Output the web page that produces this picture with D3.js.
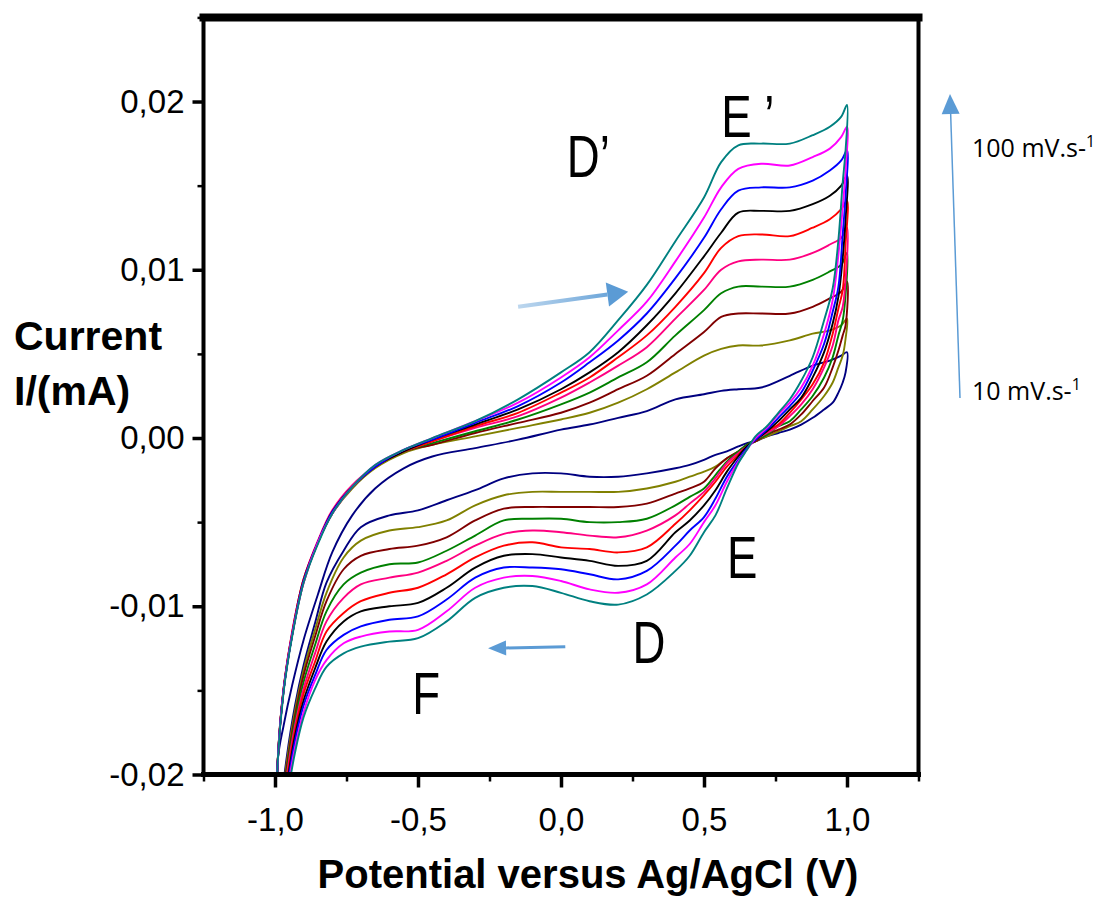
<!DOCTYPE html>
<html>
<head>
<meta charset="utf-8">
<script src="https://cdn.jsdelivr.net/npm/d3@7"></script>
<style>
  body { margin: 0; background: #fff; }
  svg { display: block; font-family: "Liberation Sans", Arial, sans-serif; }
</style>
</head>
<body>
<svg width="1103" height="900"></svg>
<script>
// scan rates in mV/s, innermost loop first
const scanRates = [10, 20, 30, 40, 50, 60, 70, 80, 90, 100]
const colors = ['#000080', '#808000', '#800000', '#008000', '#ff0080', '#ff0000', '#000000', '#0000ff', '#ff00ff', '#008080']

// potentials (V) of the anodic sweep (-1 -> 1) and the cathodic sweep (1 -> -1)
const fwdV = [-1.0, -0.99, -0.97, -0.94, -0.9, -0.85, -0.8, -0.73, -0.65, -0.55, -0.45, -0.3, -0.15, 0.0, 0.1, 0.2, 0.3, 0.4, 0.5, 0.56, 0.62, 0.7, 0.8, 0.88, 0.94, 0.98, 1.0]
const revV = [1.0, 0.995, 0.985, 0.97, 0.95, 0.92, 0.88, 0.84, 0.8, 0.76, 0.72, 0.68, 0.65, 0.62, 0.58, 0.54, 0.5, 0.45, 0.4, 0.3, 0.2, 0.1, 0.0, -0.1, -0.2, -0.3, -0.4, -0.5, -0.6, -0.7, -0.76, -0.82, -0.86, -0.9, -0.93, -0.96, -0.98, -1.0]

// currents in microA (axis is in mA)
const fwd10 = [-27.5, -19.1, -17.1, -14.7, -12.0, -9.3, -6.8, -4.6, -3.0, -1.8, -1.1, -0.6, -0.1, 0.5, 0.8, 1.2, 1.6, 2.3, 2.6, 2.8, 2.9, 3.0, 3.7, 4.3, 4.6, 4.9, 5.1]
const fwd20 = [-27.5, -19.1, -15.0, -11.7, -8.6, -6.2, -4.5, -3.0, -1.8, -0.9, -0.4, 0.1, 0.6, 1.1, 1.5, 2.1, 2.9, 3.9, 4.9, 5.3, 5.5, 5.5, 5.8, 6.2, 6.4, 6.7, 7.1]
const fwd30 = [-27.5, -19.1, -15.0, -11.7, -8.5, -6.2, -4.5, -2.9, -1.7, -0.8, -0.4, 0.3, 0.9, 1.5, 2.1, 2.9, 3.7, 5.0, 6.3, 7.2, 7.4, 7.4, 7.4, 7.8, 8.3, 8.7, 9.3]
const fwd40 = [-27.5, -19.0, -14.9, -11.6, -8.4, -6.2, -4.4, -2.9, -1.7, -0.8, -0.3, 0.4, 1.1, 2.0, 2.7, 3.6, 4.5, 6.1, 7.6, 8.6, 9.0, 9.0, 9.0, 9.4, 9.9, 10.3, 11.0]
const fwd50 = [-27.5, -19.0, -14.9, -11.5, -8.4, -6.1, -4.3, -2.8, -1.7, -0.8, -0.2, 0.6, 1.3, 2.4, 3.3, 4.3, 5.4, 7.1, 8.8, 10.0, 10.5, 10.6, 10.6, 11.0, 11.5, 11.9, 12.5]
const fwd60 = [-27.5, -19.0, -14.9, -11.6, -8.4, -6.2, -4.4, -2.9, -1.7, -0.8, -0.2, 0.7, 1.5, 2.7, 3.6, 4.8, 6.1, 7.8, 9.8, 11.3, 12.0, 12.1, 12.0, 12.5, 13.0, 13.6, 14.1]
const fwd70 = [-27.5, -19.1, -15.0, -11.7, -8.5, -6.2, -4.4, -2.9, -1.7, -0.8, -0.1, 0.8, 1.7, 2.9, 3.9, 5.1, 6.7, 8.6, 10.8, 12.2, 13.4, 13.5, 13.5, 13.9, 14.4, 15.0, 15.6]
const fwd80 = [-27.5, -19.1, -15.0, -11.7, -8.5, -6.2, -4.4, -2.9, -1.7, -0.7, -0.1, 0.9, 1.9, 3.3, 4.5, 5.8, 7.4, 9.5, 11.9, 13.6, 14.7, 14.9, 14.9, 15.3, 15.9, 16.5, 17.1]
const fwd90 = [-27.5, -19.1, -15.0, -11.7, -8.6, -6.2, -4.5, -2.9, -1.6, -0.7, 0.0, 1.0, 2.1, 3.6, 4.8, 6.4, 8.1, 10.5, 13.1, 14.9, 16.0, 16.3, 16.2, 16.7, 17.2, 17.9, 18.5]
const fwd100 = [-27.5, -19.1, -15.1, -11.8, -8.6, -6.3, -4.5, -2.9, -1.6, -0.7, 0.0, 1.0, 2.3, 3.9, 5.1, 7.0, 9.1, 11.7, 14.3, 16.4, 17.4, 17.5, 17.5, 18.0, 18.5, 19.1, 19.8]

const rev10 = [5.1, 3.9, 3.3, 2.7, 2.1, 1.7, 1.2, 0.8, 0.5, 0.3, 0.1, -0.2, -0.3, -0.5, -0.8, -1.0, -1.3, -1.6, -1.8, -2.1, -2.3, -2.3, -2.1, -2.1, -2.4, -3.1, -3.7, -4.3, -4.6, -5.3, -6.7, -8.6, -11.0, -13.5, -15.9, -19.1, -22.1, -27.5]
const rev20 = [7.1, 5.9, 4.9, 4.2, 3.3, 2.5, 1.7, 1.0, 0.7, 0.4, 0.1, -0.2, -0.5, -0.8, -1.2, -1.7, -2.0, -2.3, -2.6, -3.0, -3.2, -3.2, -3.2, -3.2, -3.4, -4.0, -4.9, -5.3, -5.5, -6.1, -7.1, -9.2, -11.4, -13.8, -16.2, -19.4, -22.4, -27.5]
const rev30 = [9.3, 6.7, 6.1, 5.2, 4.2, 3.0, 2.2, 1.4, 0.8, 0.5, 0.2, -0.2, -0.4, -0.8, -1.2, -1.8, -2.6, -3.0, -3.3, -3.9, -4.1, -4.1, -4.1, -4.1, -4.2, -4.9, -5.9, -6.4, -6.6, -7.0, -7.8, -9.7, -11.8, -14.1, -16.5, -19.7, -22.6, -27.5]
const rev40 = [11.0, 8.5, 7.0, 6.1, 4.8, 3.6, 2.5, 1.7, 1.0, 0.7, 0.2, -0.1, -0.4, -0.8, -1.4, -2.2, -3.0, -3.5, -4.0, -4.8, -5.0, -5.0, -4.8, -4.8, -4.9, -5.8, -6.7, -7.4, -7.5, -8.0, -8.7, -10.3, -12.3, -14.5, -16.8, -20.0, -22.7, -27.5]
const rev50 = [12.5, 9.4, 7.8, 7.0, 5.5, 4.2, 2.9, 2.0, 1.3, 0.7, 0.3, -0.1, -0.5, -0.9, -1.5, -2.4, -3.2, -3.9, -4.6, -5.5, -5.9, -5.8, -5.6, -5.5, -5.7, -6.4, -7.3, -8.0, -8.3, -8.7, -9.5, -10.9, -12.8, -14.9, -17.1, -20.2, -22.9, -27.5]
const rev60 = [14.1, 11.5, 8.8, 7.7, 6.2, 4.5, 3.2, 2.3, 1.5, 0.8, 0.4, -0.1, -0.5, -1.0, -1.7, -2.6, -3.4, -4.3, -5.1, -6.5, -6.8, -6.6, -6.5, -6.2, -6.4, -7.1, -8.1, -8.9, -9.2, -9.7, -10.4, -11.5, -13.3, -15.2, -17.4, -20.5, -23.1, -27.5]
const rev70 = [15.6, 13.0, 10.7, 8.4, 6.8, 5.1, 3.6, 2.4, 1.7, 1.0, 0.4, -0.1, -0.5, -1.1, -2.0, -3.1, -4.0, -4.9, -5.6, -7.3, -7.6, -7.3, -7.1, -6.9, -7.0, -7.7, -8.9, -9.8, -10.0, -10.3, -10.9, -12.1, -13.7, -15.6, -17.7, -20.8, -23.3, -27.5]
const rev80 = [17.1, 14.4, 12.1, 9.0, 7.5, 5.6, 4.0, 2.7, 1.9, 1.2, 0.5, -0.1, -0.6, -1.3, -2.3, -3.6, -4.7, -5.5, -6.4, -7.9, -8.4, -8.1, -7.8, -7.7, -7.7, -8.3, -9.6, -10.6, -10.8, -11.2, -11.7, -12.6, -14.1, -15.9, -18.0, -21.0, -23.5, -27.5]
const rev90 = [18.5, 15.9, 13.7, 10.9, 8.2, 6.2, 4.3, 3.0, 2.1, 1.4, 0.6, 0.0, -0.7, -1.4, -2.6, -4.0, -5.0, -6.3, -7.1, -8.7, -9.2, -9.0, -8.5, -8.2, -8.3, -8.9, -10.3, -11.4, -11.5, -11.8, -12.2, -13.2, -14.4, -16.3, -18.4, -21.3, -23.7, -27.5]
const rev100 = [19.8, 17.1, 15.2, 11.8, 8.9, 7.0, 4.8, 3.4, 2.3, 1.5, 0.7, 0.1, -0.7, -1.5, -3.0, -4.6, -5.6, -7.0, -7.9, -9.3, -9.9, -9.7, -9.2, -8.8, -8.9, -9.5, -10.9, -11.9, -12.1, -12.4, -12.8, -13.6, -14.9, -16.6, -18.7, -21.6, -23.9, -27.5]

// tick values
const xMajor = [-1, -0.5, 0, 0.5, 1]
const xMinor = [-1.25, -0.75, -0.25, 0.25, 0.75, 1.25]
const yMajor = [-0.02, -0.01, 0, 0.01, 0.02]
const yMinor = [-0.015, -0.005, 0.005, 0.015, 0.025]

const fwdI = [fwd10, fwd20, fwd30, fwd40, fwd50, fwd60, fwd70, fwd80, fwd90, fwd100]
const revI = [rev10, rev20, rev30, rev40, rev50, rev60, rev70, rev80, rev90, rev100]

const svg = d3.select('svg')

const x = d3.scaleLinear().domain([-1.25, 1.25]).range([203.5, 918.5])
const y = d3.scaleLinear().domain([-0.02, 0.025]).range([774.5, 17.4])

// decimal comma like the original
const locale = d3.formatLocale({ decimal: ',', thousands: '.', grouping: [3], currency: ['', ''], minus: '-' })
const fmtX = locale.format('.1f')
const fmtY = locale.format('.2f')

svg.append('clipPath').attr('id', 'plot-clip')
  .append('rect')
  .attr('x', x(-1.25)).attr('y', y(0.025))
  .attr('width', x(1.25) - x(-1.25)).attr('height', y(-0.02) - y(0.025))

// one closed loop per scan rate: anodic sweep then cathodic sweep, microA -> mA
const loops = scanRates.map((rate, i) => {
  const pts = fwdV.map((v, j) => [v, fwdI[i][j] / 1000])
  revV.forEach((v, j) => { if (j > 0) pts.push([v, revI[i][j] / 1000]) })
  return { rate: rate, color: colors[i], pts: pts }
})

const lineGen = d3.line()
  .x(d => x(d[0]))
  .y(d => y(d[1]))
  .curve(d3.curveCatmullRom.alpha(0.5))

svg.append('g')
  .attr('clip-path', 'url(#plot-clip)')
  .selectAll('path')
  .data(loops)
  .enter()
  .append('path')
  .attr('d', d => lineGen(d.pts))
  .attr('fill', 'none')
  .attr('stroke', d => d.color)
  .attr('stroke-width', 1.9)

// axes
function styleAxis(g, width) {
  g.select('.domain').remove()
  g.selectAll('.tick line').attr('stroke', '#000').attr('stroke-width', width)
  g.selectAll('.tick text').attr('fill', '#000').attr('font-size', 33)
    .attr('font-family', '"Liberation Sans", Arial, sans-serif')
}

svg.append('g')
  .attr('transform', `translate(0,${y(-0.02)})`)
  .call(d3.axisBottom(x).tickValues(xMinor).tickSize(7).tickFormat(''))
  .call(g => styleAxis(g, 2.5))

svg.append('g')
  .attr('transform', `translate(0,${y(-0.02)})`)
  .call(d3.axisBottom(x).tickValues(xMajor).tickSize(13).tickPadding(20).tickFormat(fmtX))
  .call(g => styleAxis(g, 3.5))

svg.append('g')
  .attr('transform', `translate(${x(-1.25)},0)`)
  .call(d3.axisLeft(y).tickValues(yMinor).tickSize(6).tickFormat(''))
  .call(g => styleAxis(g, 2.5))

svg.append('g')
  .attr('transform', `translate(${x(-1.25)},0)`)
  .call(d3.axisLeft(y).tickValues(yMajor).tickSize(11).tickPadding(8).tickFormat(fmtY))
  .call(g => styleAxis(g, 3.5))

// frame, top edge is heavier in the original
const frame = svg.append('g').attr('stroke', '#000').attr('stroke-linecap', 'square')
frame.append('line').attr('x1', x(-1.25)).attr('x2', x(1.25)).attr('y1', y(0.025)).attr('y2', y(0.025)).attr('stroke-width', 8)
frame.append('line').attr('x1', x(-1.25)).attr('x2', x(1.25)).attr('y1', y(-0.02)).attr('y2', y(-0.02)).attr('stroke-width', 5)
frame.append('line').attr('x1', x(-1.25)).attr('x2', x(-1.25)).attr('y1', y(0.025)).attr('y2', y(-0.02)).attr('stroke-width', 4)
frame.append('line').attr('x1', x(1.25)).attr('x2', x(1.25)).attr('y1', y(0.025)).attr('y2', y(-0.02)).attr('stroke-width', 4)

// axis titles
svg.append('text')
  .attr('x', 588).attr('y', 888)
  .attr('text-anchor', 'middle')
  .attr('font-size', 40).attr('font-weight', 'bold')
  .text('Potential versus Ag/AgCl (V)')

const yTitle = svg.append('text')
  .attr('font-size', 41).attr('font-weight', 'bold')
yTitle.append('tspan').attr('x', 14).attr('y', 350).text('Current')
yTitle.append('tspan').attr('x', 14).attr('y', 405).text('I/(mA)')

// peak labels, squeezed horizontally like the source figure
const peaks = [
  { t: 'D\u2019', v: 0.02, i: 0.0155 },
  { t: 'E \u2019', v: 0.56, i: 0.0179 },
  { t: 'E', v: 0.58, i: -0.0083 },
  { t: 'D', v: 0.25, i: -0.0134 },
  { t: 'F', v: -0.52, i: -0.0164 }
]
svg.selectAll('text.peak')
  .data(peaks)
  .enter()
  .append('text')
  .attr('class', 'peak')
  .attr('transform', d => `translate(${x(d.v)},${y(d.i)}) scale(0.76,1)`)
  .attr('font-size', 60)
  .text(d => d.t)

// arrows
const arrowBlue = '#5b9bd5'
const defs = svg.append('defs')

function arrow(x1, y1, x2, y2, w, headLen, headW, stroke) {
  const a = Math.atan2(y2 - y1, x2 - x1)
  const bx = x2 - headLen * Math.cos(a)
  const by = y2 - headLen * Math.sin(a)
  const nx = Math.sin(a) * headW / 2
  const ny = -Math.cos(a) * headW / 2
  const g = svg.append('g')
  g.append('line')
    .attr('x1', x1).attr('y1', y1).attr('x2', bx).attr('y2', by)
    .attr('stroke', stroke).attr('stroke-width', w)
  g.append('path')
    .attr('d', `M${x2},${y2}L${bx + nx},${by + ny}L${bx - nx},${by - ny}Z`)
    .attr('fill', arrowBlue)
}

// faded tail on the upper arrow
const grad = defs.append('linearGradient')
  .attr('id', 'tail-fade')
  .attr('gradientUnits', 'userSpaceOnUse')
  .attr('x1', x(-0.15)).attr('y1', y(0.0078))
  .attr('x2', x(0.235)).attr('y2', y(0.0087))
grad.append('stop').attr('offset', 0).attr('stop-color', arrowBlue).attr('stop-opacity', 0.4)
grad.append('stop').attr('offset', 1).attr('stop-color', arrowBlue).attr('stop-opacity', 1)

arrow(x(-0.15), y(0.0078), x(0.235), y(0.0087), 4, 21, 24, 'url(#tail-fade)')
arrow(x(0.015), y(-0.0124), x(-0.255), y(-0.0125), 3, 18, 15, arrowBlue)
arrow(960, 398, 950, 94, 1.5, 20, 18, arrowBlue)

// scan rate labels on the right
const rateLabels = [
  { t: '100 mV.s-', y: 157 },
  { t: '10 mV.s-', y: 400 }
]
const rl = svg.selectAll('text.rate')
  .data(rateLabels)
  .enter()
  .append('text')
  .attr('class', 'rate')
  .attr('x', 972).attr('y', d => d.y)
  .attr('font-size', 25)
  .attr('font-family', '"Open Sans", "Liberation Sans", sans-serif')
rl.append('tspan').text(d => d.t)
rl.append('tspan').attr('dy', -10).attr('font-size', 16).text('1')
</script>
</body>
</html>
